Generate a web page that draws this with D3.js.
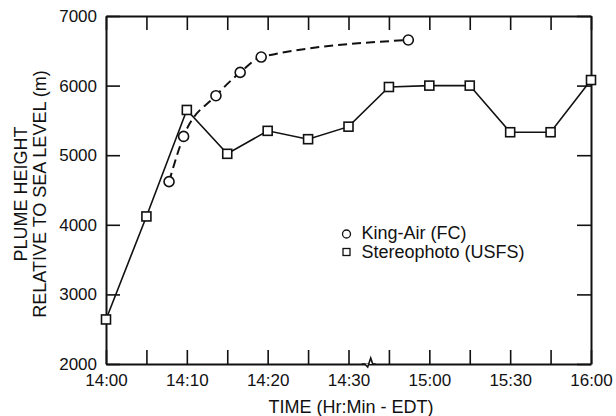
<!DOCTYPE html>
<html>
<head>
<meta charset="utf-8">
<script src="https://cdn.jsdelivr.net/npm/d3@7"></script>
<style>
  body { margin: 0; background: #fff; }
  svg text { font-family: "Liberation Sans", Arial, Helvetica, sans-serif; fill: #111; }
</style>
</head>
<body>
<div id="chart"></div>
<script>
// minutes after 14:00
var stereoTimes = [0, 5, 10, 15, 20, 25, 30, 45, 60, 75, 90, 105, 120];
var stereoHeights = [2640, 4120, 5650, 5020, 5350, 5230, 5410, 5980, 6000, 6000, 5330, 5330, 6080];

var kingTimes = [7.8, 9.6, 13.6, 16.6, 19.2, 52.2];
var kingHeights = [4620, 5270, 5855, 6190, 6410, 6655];

var xTickValues = [0, 5, 10, 15, 20, 25, 30, 45, 60, 75, 90, 105, 120];
var xTickLabels = { 0: "14:00", 10: "14:10", 20: "14:20", 30: "14:30", 60: "15:00", 90: "15:30", 120: "16:00" };
var yTickValues = [2000, 3000, 4000, 5000, 6000, 7000];

var legendLabels = ["King-Air (FC)", "Stereophoto (USFS)"];

var svgWidth = 616, svgHeight = 416;
var margin = { top: 16, right: 25, bottom: 52, left: 106 };
var width = svgWidth - margin.left - margin.right;
var height = svgHeight - margin.top - margin.bottom;
var step = width / 12;

var svg = d3.select("#chart").append("svg")
    .attr("width", svgWidth)
    .attr("height", svgHeight)
    .append("g")
    .attr("transform", "translate(" + margin.left + "," + margin.top + ")");

// broken axis: 5 min steps before the break, 15 min steps after
var x = d3.scaleLinear()
    .domain([0, 30, 45, 120])
    .range([0, 6 * step, 7 * step, width]);

var y = d3.scaleLinear()
    .domain([2000, 7000])
    .range([height, 0]);

var tickLen = 14;

svg.append("g")
    .attr("class", "axis")
    .attr("transform", "translate(0," + height + ")")
    .call(d3.axisBottom(x).tickValues(xTickValues).tickSizeInner(-tickLen).tickSizeOuter(0).tickPadding(10)
        .tickFormat(function(d) { return xTickLabels[d] || ""; }));

svg.append("g")
    .attr("class", "axis")
    .call(d3.axisTop(x).tickValues(xTickValues).tickSizeInner(-tickLen).tickSizeOuter(0).tickFormat(""));

svg.append("g")
    .attr("class", "axis")
    .call(d3.axisLeft(y).tickValues(yTickValues).tickSizeInner(-tickLen).tickSizeOuter(0).tickPadding(9)
        .tickFormat(d3.format("d")));

svg.append("g")
    .attr("class", "axis")
    .attr("transform", "translate(" + width + ",0)")
    .call(d3.axisRight(y).tickValues(yTickValues).tickSizeInner(-tickLen).tickSizeOuter(0).tickFormat(""));

svg.selectAll(".axis path.domain").attr("stroke", "#111").attr("stroke-width", 2);
svg.selectAll(".axis line").attr("stroke", "#111").attr("stroke-width", 1.6);
svg.selectAll(".axis text").attr("font-size", "17px").attr("fill", "#111");

// break mark on the time axis
var bx = x(37.5);
svg.append("path")
    .attr("d", "M" + (bx - 7) + "," + height + "L" + (bx - 4) + "," + height +
        "L" + (bx - 1) + "," + (height + 3) + "L" + (bx + 2) + "," + (height - 6) +
        "L" + (bx + 4) + "," + height + "L" + (bx + 7) + "," + height)
    .attr("fill", "white")
    .attr("stroke", "#111")
    .attr("stroke-width", 1.6);

var stereo = stereoTimes.map(function(t, i) { return { t: t, h: stereoHeights[i] }; });
var king = kingTimes.map(function(t, i) { return { t: t, h: kingHeights[i] }; });

var line = d3.line()
    .x(function(d) { return x(d.t); })
    .y(function(d) { return y(d.h); });

svg.append("path")
    .datum(king)
    .attr("d", line.curve(d3.curveMonotoneX))
    .attr("fill", "none")
    .attr("stroke", "#111")
    .attr("stroke-width", 2)
    .attr("stroke-dasharray", "9,5");

svg.append("path")
    .datum(stereo)
    .attr("d", line.curve(d3.curveLinear))
    .attr("fill", "none")
    .attr("stroke", "#111")
    .attr("stroke-width", 1.6);

svg.selectAll(".king")
    .data(king)
    .enter()
    .append("circle")
    .attr("class", "king")
    .attr("cx", function(d) { return x(d.t); })
    .attr("cy", function(d) { return y(d.h); })
    .attr("r", 5)
    .attr("fill", "white")
    .attr("stroke", "#111")
    .attr("stroke-width", 1.6);

var sq = 9;
svg.selectAll(".stereo")
    .data(stereo)
    .enter()
    .append("rect")
    .attr("class", "stereo")
    .attr("x", function(d) { return x(d.t) - sq / 2; })
    .attr("y", function(d) { return y(d.h) - sq / 2; })
    .attr("width", sq)
    .attr("height", sq)
    .attr("fill", "white")
    .attr("stroke", "#111")
    .attr("stroke-width", 1.6);

// legend
var legend = svg.append("g")
    .attr("transform", "translate(" + (346.5 - margin.left) + "," + (234 - margin.top) + ")");

legend.append("circle")
    .attr("cx", 0).attr("cy", 0).attr("r", 4)
    .attr("fill", "white").attr("stroke", "#111").attr("stroke-width", 1.3);

legend.append("rect")
    .attr("x", -3.5).attr("y", 18 - 3.5).attr("width", 7).attr("height", 7)
    .attr("fill", "white").attr("stroke", "#111").attr("stroke-width", 1.3);

legend.selectAll("text")
    .data(legendLabels)
    .enter()
    .append("text")
    .attr("x", 15)
    .attr("y", function(d, i) { return 5 + i * 18.5; })
    .attr("font-size", "18px")
    .text(function(d) { return d; });

// axis titles
svg.append("text")
    .attr("text-anchor", "middle")
    .attr("x", 351 - margin.left)
    .attr("y", height + 49)
    .attr("font-size", "18px")
    .text("TIME (Hr:Min - EDT)");

svg.append("text")
    .attr("text-anchor", "middle")
    .attr("transform", "rotate(-90)")
    .attr("x", -(194 - margin.top))
    .attr("y", 26.5 - margin.left)
    .attr("font-size", "18px")
    .text("PLUME HEIGHT");

svg.append("text")
    .attr("text-anchor", "middle")
    .attr("transform", "rotate(-90)")
    .attr("x", -(194 - margin.top))
    .attr("y", 45.5 - margin.left)
    .attr("font-size", "18px")
    .text("RELATIVE TO SEA LEVEL (m)");
</script>
</body>
</html>
